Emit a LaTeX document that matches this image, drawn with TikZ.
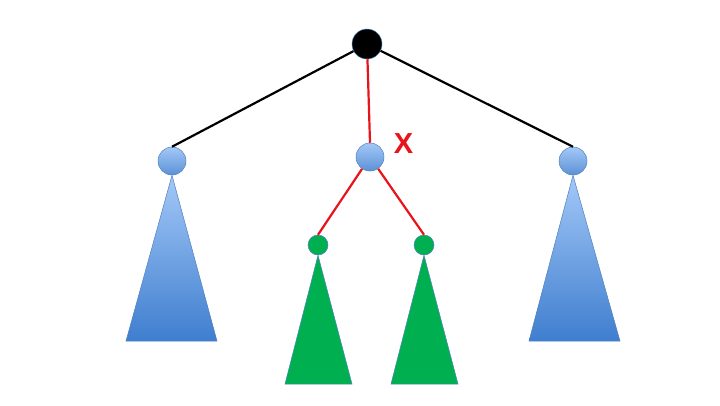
\documentclass[tikz,border=0pt]{standalone}
\usepackage{fontspec}
\setsansfont{Liberation Sans}
\definecolor{bluetop}{HTML}{A3C8F7}
\definecolor{bluebot}{HTML}{3F7ECF}
\definecolor{blueline}{HTML}{4F81BD}
\definecolor{treegreen}{HTML}{00B050}
\definecolor{cutred}{HTML}{E8141B}
\begin{document}
\begin{tikzpicture}[x=1pt,y=-1pt]
            \tikzstyle{every node}+=[inner sep=0pt]
            \tikzstyle{rootnode}=[circle, minimum size=30pt, fill=black, draw=blueline, line width=0.5pt]
            \tikzstyle{bluenode}=[circle, minimum size=28pt, top color=bluetop, bottom color=bluebot!85, draw=blueline, line width=0.5pt]
            \tikzstyle{greennode}=[circle, minimum size=20pt, fill=treegreen, draw=blueline, line width=0.5pt]
            \tikzstyle{bluetree}=[top color=bluetop, bottom color=bluebot, draw=blueline, line width=0.5pt]
            \tikzstyle{greentree}=[fill=treegreen, draw=blueline, line width=0.5pt]
            \tikzstyle{edge}=[black, line width=2.2pt]
            \tikzstyle{cutedge}=[cutred, line width=2.2pt]
            \useasboundingbox (0,0) rectangle (720,405);
            % nodes
            \node [rootnode] (r) at (367,44) {};
            \node [bluenode] (a) at (172,161) {};
            \node [bluenode] (b) at (370,157) {};
            \node [bluenode] (c) at (573,161) {};
            \node [greennode] (d) at (318,245) {};
            \node [greennode] (e) at (424,245) {};
            \node [cutred, font=\sffamily\bfseries\fontsize{29}{29}\selectfont] (x) at (403.5,144) {X};
            % subtrees
            \shade [bluetree] (a.south) -- (217,341) -- (126,341) -- cycle;
            \shade [bluetree] (c.south) -- (620,341) -- (529,341) -- cycle;
            \draw [greentree] (d.south) -- (352,384) -- (285,384) -- cycle;
            \draw [greentree] (e.south) -- (458,384) -- (391,384) -- cycle;
            % edges
            \draw [edge] (r) -- (a.north);
            \draw [edge] (r) -- (c.north);
            \draw [cutedge] (r) -- (b.north);
            \draw [cutedge] (b) -- (d.north);
            \draw [cutedge] (b) -- (e.north);
            \end{tikzpicture}
\end{document}
